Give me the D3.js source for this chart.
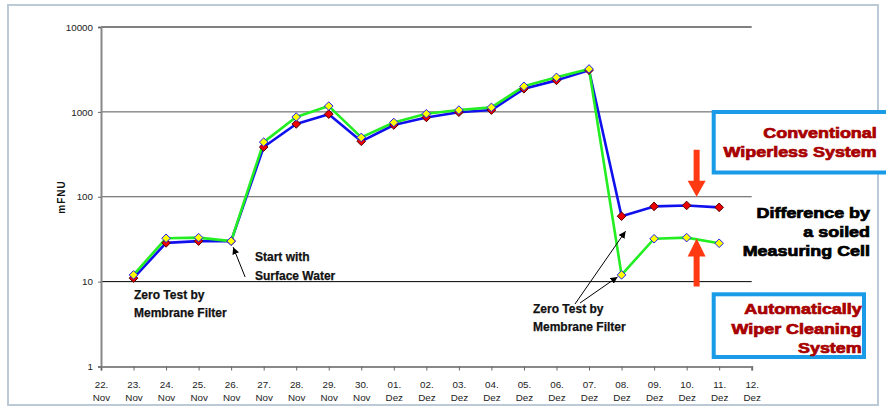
<!DOCTYPE html>
<html>
<head>
<meta charset="utf-8">
<script src="https://cdn.jsdelivr.net/npm/d3@7"></script>
<style>
  body { margin: 0; background: #fff; }
  svg { display: block; font-family: "Liberation Sans", Arial, sans-serif; }
</style>
</head>
<body>
<div id="chart"></div>
<script>
// tick labels along the date axis
const dayLabels = ["22.", "23.", "24.", "25.", "26.", "27.", "28.", "29.", "30.", "01.", "02.",
  "03.", "04.", "05.", "06.", "07.", "08.", "09.", "10.", "11.", "12."];
const monthLabels = ["Nov", "Nov", "Nov", "Nov", "Nov", "Nov", "Nov", "Nov", "Nov",
  "Dez", "Dez", "Dez", "Dez", "Dez", "Dez", "Dez", "Dez", "Dez", "Dez", "Dez", "Dez"];
const yTicks = [1, 10, 100, 1000, 10000];

// measured days: 23. Nov ... 11. Dez (index into dayLabels)
const measuredDays = [1, 2, 3, 4, 5, 6, 7, 8, 9, 10, 11, 12, 13, 14, 15, 16, 17, 18, 19];
const conventional = [11, 28.6, 30, 30, 385, 720, 940, 450, 700, 860, 990, 1050, 1870, 2350, 3100, 59, 77, 79, 75];
const wiper = [12, 32.4, 33, 30, 440, 870, 1170, 500, 750, 950, 1050, 1130, 2000, 2550, 3200, 12, 32, 33, 28.3];

const W = 886, H = 407;
const x = d3.scaleLinear().domain([0, 20]).range([101, 751.7]);
const y = d3.scaleLog().domain([1, 10000]).range([366.5, 27]);

const svg = d3.select("#chart").append("svg")
  .attr("width", W)
  .attr("height", H);

svg.append("defs").append("marker")
  .attr("id", "head")
  .attr("viewBox", "0 0 10 10")
  .attr("refX", 10).attr("refY", 5)
  .attr("markerWidth", 7).attr("markerHeight", 7)
  .attr("markerUnits", "userSpaceOnUse")
  .attr("orient", "auto")
  .append("path")
  .attr("d", "M0,0L10,5L0,10Z")
  .attr("fill", "#000");

// outer frame
svg.append("rect")
  .attr("x", 8).attr("y", 5)
  .attr("width", 870).attr("height", 400)
  .attr("fill", "none")
  .attr("stroke", "#bccad8")
  .attr("stroke-width", 2);

// horizontal grid
svg.append("g")
  .selectAll("line")
  .data(yTicks.slice(1))
  .enter().append("line")
  .attr("x1", x(0)).attr("x2", x(20))
  .attr("y1", d => y(d)).attr("y2", d => y(d))
  .attr("stroke", d => (d === 100 || d === 1000) ? "#555" : "#000")
  .attr("stroke-width", 1);

// y axis
const yAxis = svg.append("g")
  .attr("transform", "translate(" + x(0) + ",0)")
  .call(d3.axisLeft(y).tickValues(yTicks).tickFormat(d3.format("d")).tickSize(3).tickPadding(5));
yAxis.select(".domain").attr("stroke", "#888").attr("stroke-width", 2);
yAxis.selectAll(".tick line").attr("stroke", "#666");
yAxis.selectAll("text").attr("font-size", "9.8px").attr("fill", "#222")
  .attr("font-family", "'Liberation Sans', Arial, sans-serif");

// x axis
const xAxis = svg.append("g")
  .attr("transform", "translate(0," + y(1) + ")")
  .call(d3.axisBottom(x).tickValues(d3.range(0, 21)).tickFormat(i => dayLabels[i]).tickSize(4).tickPadding(0));
xAxis.select(".domain").attr("stroke", "#888").attr("stroke-width", 2);
xAxis.selectAll(".tick line").attr("stroke", "#666");
xAxis.selectAll("text")
  .attr("font-size", "9.8px").attr("fill", "#222")
  .attr("font-family", "'Liberation Sans', Arial, sans-serif")
  .attr("dy", null).attr("y", 21)
  .each(function (i) {
    d3.select(this).append("tspan")
      .attr("x", 0).attr("dy", 13)
      .text(monthLabels[i]);
  });

svg.append("text")
  .attr("transform", "translate(65,197) rotate(-90)")
  .attr("text-anchor", "middle")
  .attr("font-size", "10px")
  .attr("font-weight", "bold")
  .attr("letter-spacing", "1px")
  .attr("fill", "#111")
  .text("mFNU");

// series
const line = d3.line()
  .x((d, i) => x(measuredDays[i]))
  .y(d => y(d));

svg.append("path").datum(conventional)
  .attr("fill", "none").attr("stroke", "#1010ee").attr("stroke-width", 2.6)
  .attr("stroke-linejoin", "round")
  .attr("d", line);

svg.append("path").datum(wiper)
  .attr("fill", "none").attr("stroke", "#22ee22").attr("stroke-width", 2.6)
  .attr("stroke-linejoin", "round")
  .attr("d", line);

const diamond = "M0,-4.3L4.3,0L0,4.3L-4.3,0Z";

svg.append("g").selectAll("path")
  .data(conventional)
  .enter().append("path")
  .attr("d", diamond)
  .attr("transform", (d, i) => "translate(" + x(measuredDays[i]) + "," + y(d) + ")")
  .attr("fill", "#ee0000").attr("stroke", "#500000").attr("stroke-width", 1);

svg.append("g").selectAll("path")
  .data(wiper)
  .enter().append("path")
  .attr("d", diamond)
  .attr("transform", (d, i) => "translate(" + x(measuredDays[i]) + "," + y(d) + ")")
  .attr("fill", "#ffff00").attr("stroke", "#1a1aff").attr("stroke-width", 1);

// annotations
function label(lines, px, py, lh) {
  const t = svg.append("text")
    .attr("font-size", "12px").attr("font-weight", "bold").attr("fill", "#111")
    .attr("stroke", "#111").attr("stroke-width", 0.25);
  lines.forEach((s, k) => t.append("tspan").attr("x", px).attr("y", py + k * lh).text(s));
}
label(["Zero Test by", "Membrane Filter"], 134, 299, 18);
label(["Start with", "Surface Water"], 255, 261, 18.5);
label(["Zero Test by", "Membrane Filter"], 533, 312.5, 18);

function arrow(x1, y1, x2, y2) {
  svg.append("line")
    .attr("x1", x1).attr("y1", y1).attr("x2", x2).attr("y2", y2)
    .attr("stroke", "#000").attr("stroke-width", 1)
    .attr("marker-end", "url(#head)");
}
arrow(x(4) + 14, 277, x(4) + 2, y(30) + 6);
arrow(575, 304, x(16) + 4, y(conventional[15]) + 15);
arrow(580, 303, x(16) - 4, y(wiper[15]) + 2);

// red arrows marking the difference
const ax = x(18) + 10;
const red = "#ff3a12";
const downTip = y(100);
svg.append("path")
  .attr("d", d3.line()([[ax - 3, downTip - 47], [ax + 3, downTip - 47], [ax + 3, downTip - 16],
    [ax + 9, downTip - 16], [ax, downTip], [ax - 9, downTip - 16], [ax - 3, downTip - 16]]) + "Z")
  .attr("fill", red);
const upTip = y(wiper[17]) + 1;
svg.append("path")
  .attr("d", d3.line()([[ax, upTip], [ax + 9, upTip + 18], [ax + 3, upTip + 18], [ax + 3, upTip + 48],
    [ax - 3, upTip + 48], [ax - 3, upTip + 18], [ax - 9, upTip + 18]]) + "Z")
  .attr("fill", red);

// boxes
function box(bx, by, bw, bh) {
  svg.append("rect")
    .attr("x", bx).attr("y", by).attr("width", bw).attr("height", bh)
    .attr("fill", "#fff").attr("stroke", "#1a9be8").attr("stroke-width", 4);
}
function wide(lines, px, py, lh, color) {
  lines.forEach((s, k) => {
    svg.append("text")
      .attr("transform", "translate(" + px + "," + (py + k * lh) + ") scale(1.28,1)")
      .attr("text-anchor", "end")
      .attr("font-size", "14px").attr("font-weight", "bold")
      .attr("fill", color)
      .attr("stroke", color).attr("stroke-width", 0.7)
      .text(s);
  });
}
box(713.7, 112, 180, 60.5);
wide(["Conventional", "Wiperless System"], 876.7, 137.7, 19.6, "#a80000");

wide(["Difference by", "a soiled", "Measuring Cell"], 870, 217.7, 19.2, "#000");

box(713.7, 294.3, 150.3, 62.7);
wide(["Automatically", "Wiper Cleaning", "System"], 861.7, 314.3, 19.5, "#a80000");
</script>
</body>
</html>
